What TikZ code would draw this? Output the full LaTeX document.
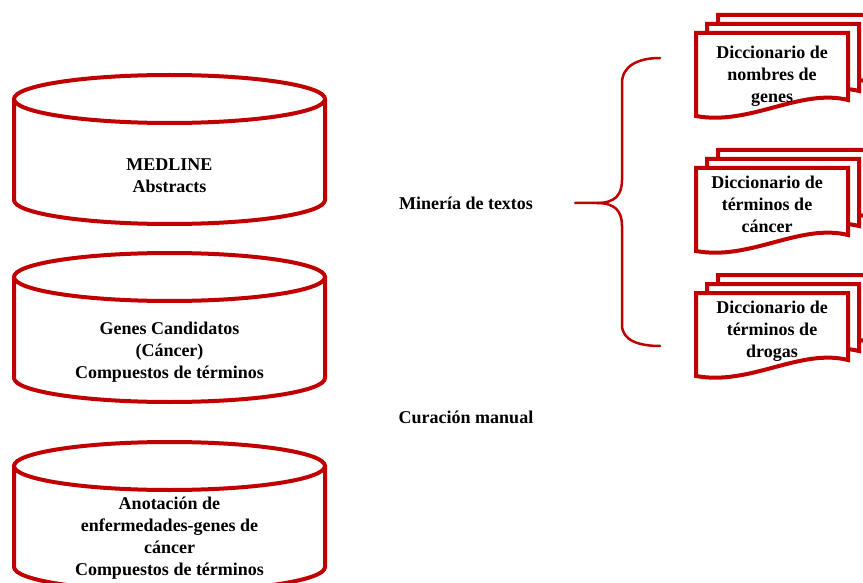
\documentclass[tikz,border=0pt]{standalone}
\usepackage{fontspec}
\setmainfont{Liberation Serif}
\definecolor{dred}{HTML}{C00000}
\tikzset{
  lbl/.style={font=\bfseries\fontsize{18}{22}\selectfont, align=center, text=black, inner sep=0pt},
  rim/.style={draw=dred, line width=4pt, fill=white},
  brace/.style={draw=dred, line width=2.5pt, line cap=round},
  pics/cyl/.style={code={
    \path[rim] (-155.5,0) -- (-155.5,101) arc[start angle=180, end angle=0, x radius=155.5, y radius=24] -- (155.5,0);
    \path[rim] (0,0) ellipse[x radius=155.5, y radius=24];
  }},
  pics/docsheet/.style={code={
    \path[rim, line join=miter] (0,0) -- (152,0) -- (152,67) .. controls (104,55) and (54,93) .. (0,83) -- cycle;
  }}
}
\begin{document}
\begin{tikzpicture}[x=1pt, y=-1pt]
\useasboundingbox (0,0) rectangle (863,583);
\clip (0,0) rectangle (863,583);
% cylinders
\pic at (169.5,99) {cyl};
\pic at (169.5,277) {cyl};
\pic at (169.5,466) {cyl};
\node[lbl] (medline) at (169.5,176) {MEDLINE\\Abstracts};
\node[lbl] (genes) at (169.5,352) {Genes Candidatos\\(Cáncer)\\Compuestos de términos};
\node[lbl] (anot) at (169.5,538) {Anotación de\\enfermedades-genes de\\cáncer\\Compuestos de términos};
% middle labels
\node[lbl] (mineria) at (466,203) {Minería de textos};
\node[lbl] (curacion) at (466,417) {Curación manual};
% brace
\coordinate (tip) at (575,203);
\coordinate (btop) at (660,58);
\coordinate (bbot) at (660,346);
\draw[brace] (btop) .. controls (638,58) and (622,66) .. (622,83) -- (622,180) .. controls (622,195) and (615,203) .. (597,203) -- (tip);
\draw[brace] (bbot) .. controls (638,346) and (622,340) .. (622,325) -- (622,226) .. controls (622,211) and (615,203) .. (597,203);
% documents
\foreach \y in {33,168,293}{
  \pic at (718,\y-18) {docsheet};
  \pic at (707,\y-9) {docsheet};
  \pic at (696,\y) {docsheet};
}
\node[lbl] (dic1) at (772,76) {Diccionario de\\nombres de\\genes};
\node[lbl] (dic2) at (767,204) {Diccionario de\\términos de\\cáncer};
\node[lbl] (dic3) at (772,331) {Diccionario de\\términos de\\drogas};
\end{tikzpicture}
\end{document}
